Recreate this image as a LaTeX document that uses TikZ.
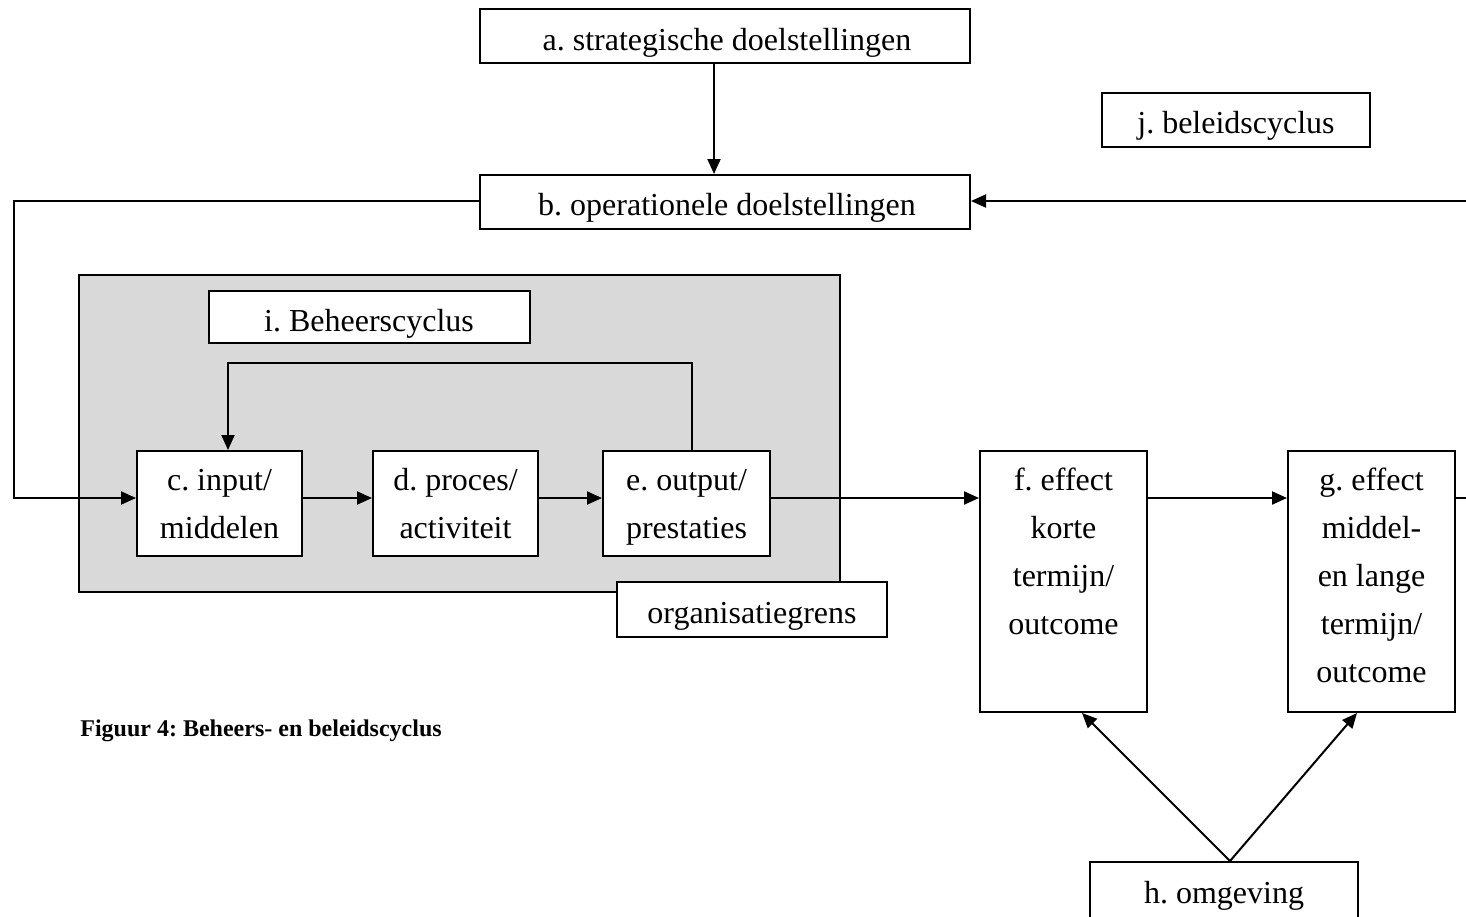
\documentclass[tikz,border=0pt]{standalone}
\usepackage{fontspec}
\setmainfont{Liberation Serif}
\frenchspacing
\usetikzlibrary{arrows.meta}
\tikzset{
  boxnode/.style={draw, line width=1pt, fill=white, inner sep=0pt},
  txt/.style={inner sep=0pt, anchor=base, align=center, font=\fontsize{16}{24}\selectfont},
  conn/.style={line width=1pt},
  arr/.style={line width=1pt, -{Triangle[length=7.5pt,width=6.5pt]}},
}
\definecolor{grayarea}{RGB}{217,217,217}
\begin{document}
\begin{tikzpicture}[x=0.5pt,y=-0.5pt]
\clip (0,0) rectangle (1466,916);
\fill[white] (0,0) rectangle (1466,916);
% organisation area
\draw[line width=1pt, fill=grayarea] (79,275) rectangle (840,592);
% boxes
\node[boxnode, minimum width=245pt, minimum height=27pt] (a) at (725,36) {};
\node[boxnode, minimum width=245pt, minimum height=27pt] (b) at (725,202) {};
\node[boxnode, minimum width=134pt, minimum height=27pt] (j) at (1236,120) {};
\node[boxnode, minimum width=160.5pt, minimum height=26pt] (i) at (369.5,317) {};
\node[boxnode, minimum width=82.5pt, minimum height=52.5pt] (c) at (219.5,503.5) {};
\node[boxnode, minimum width=82.5pt, minimum height=52.5pt] (d) at (455.5,503.5) {};
\node[boxnode, minimum width=83.5pt, minimum height=52.5pt] (e) at (686.5,503.5) {};
\node[boxnode, minimum width=135pt, minimum height=27.5pt] (org) at (752,609.5) {};
\node[boxnode, minimum width=83.5pt, minimum height=130.5pt] (f) at (1063.5,581.5) {};
\node[boxnode, minimum width=83.5pt, minimum height=130.5pt] (g) at (1371.5,581.5) {};
\node[boxnode, minimum width=134pt, minimum height=30pt] (h) at (1224,892) {};
% texts (base = baseline of last line)
\node[txt] (at) at (727,50) {a. strategische doelstellingen};
\node[txt] (bt) at (727,215) {b. operationele doelstellingen};
\node[txt] (jt) at (1236,133) {j. beleidscyclus};
\node[txt] (it) at (369,331) {i. Beheerscyclus};
\node[txt] (ct) at (219.5,538) {c. input/\\middelen};
\node[txt] (dt) at (455.5,538) {d. proces/\\activiteit};
\node[txt] (et) at (686.5,538) {e. output/\\prestaties};
\node[txt] (orgt) at (752,623) {organisatiegrens};
\node[txt] (ft) at (1063.5,634) {f. effect\\korte\\termijn/\\outcome};
\node[txt] (gt) at (1371.5,682) {g. effect\\middel-\\en lange\\termijn/\\outcome};
\node[txt] (ht) at (1224,903) {h. omgeving};
\node[inner sep=0pt, anchor=base west, font=\fontsize{12}{14}\selectfont\bfseries] (cap) at (80,736) {Figuur 4: Beheers- en beleidscyclus};
% helper coordinates
\coordinate (row) at (0,498);
\coordinate (ax) at (714,0);
\coordinate (bl) at (0,201);
\coordinate (leftx) at (14,0);
\coordinate (rightin) at (1466,201);
\coordinate (rightout) at (1466,498);
\coordinate (loopy) at (0,363);
\coordinate (ex) at (692,0);
\coordinate (cx) at (228,0);
\coordinate (hx) at (1230,0);
\coordinate (fx) at (1082,0);
\coordinate (gx) at (1357,0);
% connectors
\draw[arr] (a.south -| ax) -- (b.north -| ax);
\draw[arr] (b.west |- bl) -- (leftx |- bl) -- (leftx |- row) -- (c.west |- row);
\draw[arr] (rightin) -- (b.east |- rightin);
\draw[arr] (c.east |- row) -- (d.west |- row);
\draw[arr] (d.east |- row) -- (e.west |- row);
\draw[arr] (e.east |- row) -- (f.west |- row);
\draw[arr] (f.east |- row) -- (g.west |- row);
\draw[conn] (g.east |- row) -- (rightout);
\draw[arr] (e.north -| ex) -- (ex |- loopy) -- (cx |- loopy) -- (c.north -| cx);
\draw[arr] (h.north -| hx) -- (f.south -| fx);
\draw[arr] (h.north -| hx) -- (g.south -| gx);
\end{tikzpicture}
\end{document}
